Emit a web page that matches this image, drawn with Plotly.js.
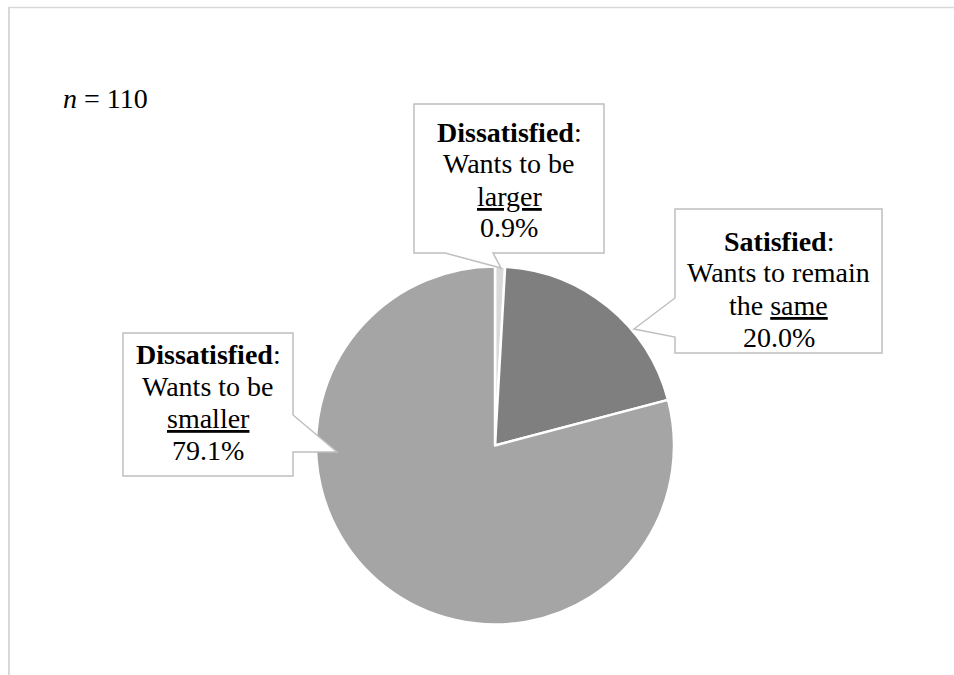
<!DOCTYPE html>
<html>
<head>
<meta charset="utf-8">
<script src="https://cdn.plot.ly/plotly-3.0.1.min.js"></script>
<style>
html,body{margin:0;padding:0;background:#fff;font-family:'Liberation Serif', serif;}
#chart{width:954px;height:675px;}
#chart text{font-family:'Liberation Serif', serif;}
</style>
</head>
<body>
<div id="chart"></div>
<script>
// ---- data ----
const categories = ["Dissatisfied: Wants to be larger", "Satisfied: Wants to remain the same", "Dissatisfied: Wants to be smaller"];
const shares = [0.9, 20.0, 79.1];
const groupLabels = ["Dissatisfied", "Satisfied", "Dissatisfied"];
const wantLines = [["Wants to be", "<u>larger</u>"], ["Wants to remain", "the <u>same</u>"], ["Wants to be", "<u>smaller</u>"]];
const sliceColors = ["#d9d9d9", "#7f7f7f", "#a5a5a5"];
const sampleSize = 110;

// ---- layout helpers (pixel -> paper) ----
const W = 954, H = 675;
const X = px => px / W;
const Y = py => 1 - py / H;

// callout geometry (pixels)
const callouts = [
  { cx: 509, lines: [132, 164, 196, 228],
    path: [[414,104],[604,104],[604,253],[493,253],[501,268],[445,253],[414,253]] },
  { cx: 778.5, lines: [241, 273, 305, 337],
    path: [[675,209],[882,209],[882,353],[675,353],[675,337],[634,329],[675,298]] },
  { cx: 208, lines: [354, 386, 418, 450],
    path: [[123,333],[293,333],[293,415],[337,452],[293,452],[293,476],[123,476]] }
];

const FAMILY = "Liberation Serif";
const mkFont = () => ({ family: FAMILY, size: 28, color: "#000000" });

const shapes = [
  { type: "line", xref: "paper", yref: "paper", x0: X(8), x1: X(954), y0: Y(7.5), y1: Y(7.5), line: { color: "#d9d9d9", width: 1.5 } },
  { type: "line", xref: "paper", yref: "paper", x0: X(9), x1: X(9), y0: Y(7), y1: Y(675), line: { color: "#d9d9d9", width: 2 } }
];
const annotations = [];

callouts.forEach((c, i) => {
  const d = c.path.map((p, k) => (k ? "L" : "M") + X(p[0]).toFixed(5) + "," + Y(p[1]).toFixed(5)).join(" ") + " Z";
  shapes.push({ type: "path", xref: "paper", yref: "paper", path: d, fillcolor: "#ffffff",
    line: { color: "#bfbfbf", width: 1.5 }, layer: "above" });
  const texts = ["<b>" + groupLabels[i] + "</b>:", wantLines[i][0], wantLines[i][1], shares[i].toFixed(1) + "%"];
  texts.forEach((t, k) => {
    annotations.push({ xref: "paper", yref: "paper", x: X(c.cx), y: Y(c.lines[k]), text: t,
      showarrow: false, xanchor: "center", yanchor: "middle", font: mkFont() });
  });
});

annotations.push({ xref: "paper", yref: "paper", x: X(61), y: Y(98), text: "<i>n</i> = " + sampleSize,
  showarrow: false, xanchor: "left", yanchor: "middle", font: mkFont() });

const trace = {
  type: "pie",
  labels: categories,
  values: shares,
  sort: false,
  direction: "clockwise",
  rotation: 0,
  textinfo: "none",
  hoverinfo: "skip",
  marker: { colors: sliceColors, line: { color: "#ffffff", width: 2.5 } },
  domain: { x: [X(316), X(674)], y: [Y(624.5), Y(266.5)] }
};

const layout = {
  width: W, height: H,
  margin: { l: 0, r: 0, t: 0, b: 0 },
  paper_bgcolor: "#ffffff",
  font: { family: FAMILY, size: 28, color: "#000000" },
  showlegend: false,
  shapes: shapes,
  annotations: annotations
};

function forceSerif() {
  document.querySelectorAll("#chart text, #chart tspan").forEach(el => {
    el.style.setProperty("font-family", "'Liberation Serif', serif", "important");
    el.setAttribute("font-family", "Liberation Serif");
  });
}

function draw() {
  Plotly.newPlot("chart", [trace], layout, { displayModeBar: false }).then(forceSerif);
}

const ready = (document.fonts && document.fonts.load)
  ? Promise.all([
      document.fonts.load('28px "Liberation Serif"', 'Wants'),
      document.fonts.load('bold 28px "Liberation Serif"', 'Dissatisfied'),
      document.fonts.load('italic 28px "Liberation Serif"', 'n')
    ])
  : Promise.resolve();
ready.then(draw, draw);
</script>
</body>
</html>
